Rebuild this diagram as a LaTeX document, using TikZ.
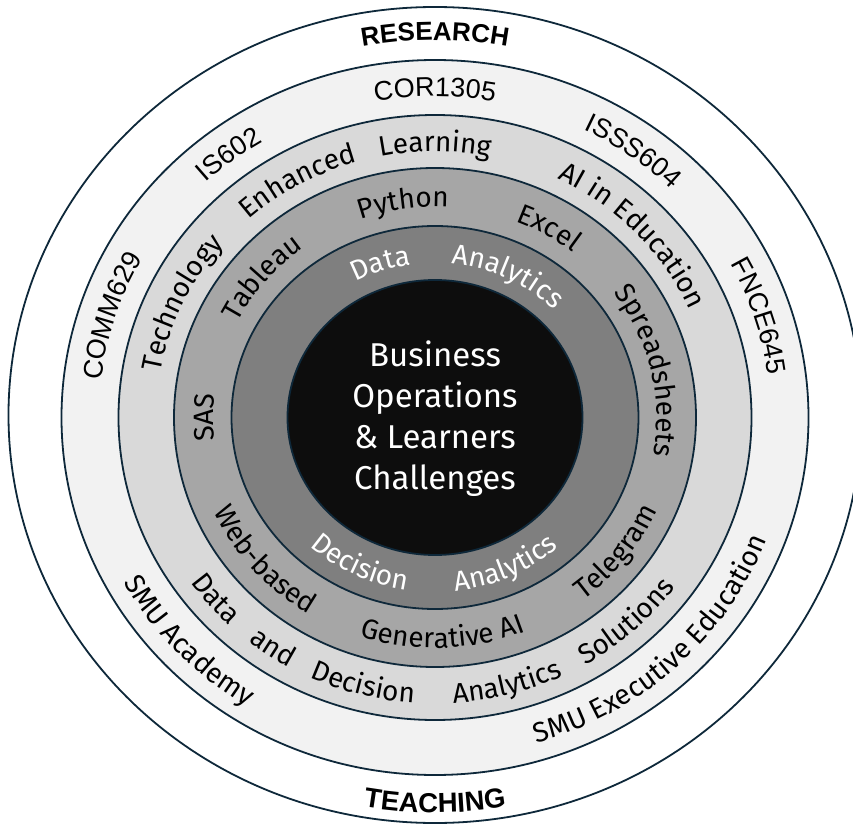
\documentclass[tikz,border=0pt]{standalone}
\usepackage{fontspec}
\setmainfont{Fira Sans}
\newfontfamily\codefont{Liberation Sans}
\usetikzlibrary{decorations.text}

\definecolor{ringline}{RGB}{14,40,58}
\definecolor{bandA}{RGB}{242,242,242}
\definecolor{bandB}{RGB}{217,217,217}
\definecolor{bandC}{RGB}{166,166,166}
\definecolor{bandD}{RGB}{127,127,127}
\definecolor{core}{RGB}{13,13,13}

% fonts
\newcommand\fhead{\codefont\bfseries\fontsize{26}{30}\selectfont}
\newcommand\fheadlow{\codefont\bfseries\fontsize{27.5}{30}\selectfont}
\newcommand\fcode{\codefont\fontsize{27}{32}\selectfont}
\newcommand\fring{\fontsize{28}{32}\selectfont}

% text along an elliptic arc, upper style (read clockwise)
% #1 x radius, #2 y radius, #3 centre angle, #4 font/colour, #5 text
\newcommand\cwtext[5]{%
  \path[decorate, decoration={text along path, text align=center, text={|#4|#5}}]
    ({#3+70}:#1 and #2) arc[start angle={#3+70}, delta angle=-140, x radius=#1, y radius=#2];}
% lower style (read counter-clockwise)
\newcommand\ccwtext[5]{%
  \path[decorate, decoration={text along path, text align=center, text={|#4|#5}}]
    ({#3-70}:#1 and #2) arc[start angle={#3-70}, delta angle=140, x radius=#1, y radius=#2];}

\tikzset{ring/.style={draw=ringline, line width=1.8pt}}

\begin{document}
\begin{tikzpicture}[x=1pt,y=1pt]
\useasboundingbox (-435,-409.5) rectangle (418,417.5);
\fill[white] (-435,-409.5) rectangle (418,417.5);

% concentric rings
\draw[ring, fill=white] (0,2.5) ellipse[x radius=426.5, y radius=408];
\draw[ring, fill=bandA] (0,0) ellipse[x radius=373.5, y radius=357.5];
\draw[ring, fill=bandB] (0,0) ellipse[x radius=316.5, y radius=302.5];
\draw[ring, fill=bandC] (0,0) ellipse[x radius=261, y radius=249.5];
\draw[ring, fill=bandD] (0,0) ellipse[x radius=203.5, y radius=191.5];
\draw[ring, fill=core] (0,0) ellipse[x radius=147.5, y radius=137.5];

% outer band
\cwtext{394}{377}{90}{\fhead}{RESEARCH}
\ccwtext{412}{395}{270}{\fheadlow}{TEACHING}

% course codes and programmes
\cwtext{336}{321}{90}{\fcode}{COR1305}
\cwtext{336}{321}{128}{\fcode}{IS602}
\cwtext{336}{321}{53.5}{\fcode}{ISSS604}
\cwtext{336}{321}{162.5}{\fcode}{COMM629}
\cwtext{336}{321}{17.4}{\fcode}{FNCE645}
\ccwtext{356}{340}{222.5}{\fring}{SMU Academy}
\ccwtext{356}{340}{313.7}{\fring}{SMU Executive Education}

% themes
\cwtext{278.5}{266}{155.5}{\fring}{Technology}
\cwtext{278.5}{266}{120}{\fring}{Enhanced}
\cwtext{278.5}{266}{90}{\fring}{Learning}
\cwtext{278.5}{266}{42.8}{\fring}{AI in Education}
\ccwtext{299}{286}{219.8}{\fring}{Data}
\ccwtext{299}{286}{235.1}{\fring}{and}
\ccwtext{299}{286}{255.1}{\fring}{Decision}
\ccwtext{299}{286}{285}{\fring}{Analytics}
\ccwtext{299}{286}{312.9}{\fring}{Solutions}

% tools
\cwtext{221.5}{210.5}{140.9}{\fring}{Tableau}
\cwtext{221.5}{210.5}{98.4}{\fring}{Python}
\cwtext{221.5}{210.5}{59}{\fring}{Excel}
\cwtext{221.5}{210.5}{12.6}{\fring}{Spreadsheets}
\cwtext{221.5}{210.5}{180}{\fring}{SAS}
\ccwtext{242.5}{230.5}{220.2}{\fring}{Web-based}
\ccwtext{242.5}{230.5}{272}{\fring}{Generative AI}
\ccwtext{242.5}{230.5}{323.1}{\fring}{Telegram}

% analytics
\cwtext{165.5}{154.5}{109.5}{\color{white}\fring}{Data}
\cwtext{165.5}{154.5}{63}{\color{white}\fring}{Analytics}
\ccwtext{185.5}{174.5}{243.2}{\color{white}\fring}{Decision}
\ccwtext{185.5}{174.5}{295.2}{\color{white}\fring}{Analytics}

% core
\node[text=white, align=center, font=\fontsize{33}{41}\selectfont] (core) at (0,-1)
  {Business\\Operations\\\& Learners\\Challenges};
\end{tikzpicture}
\end{document}
